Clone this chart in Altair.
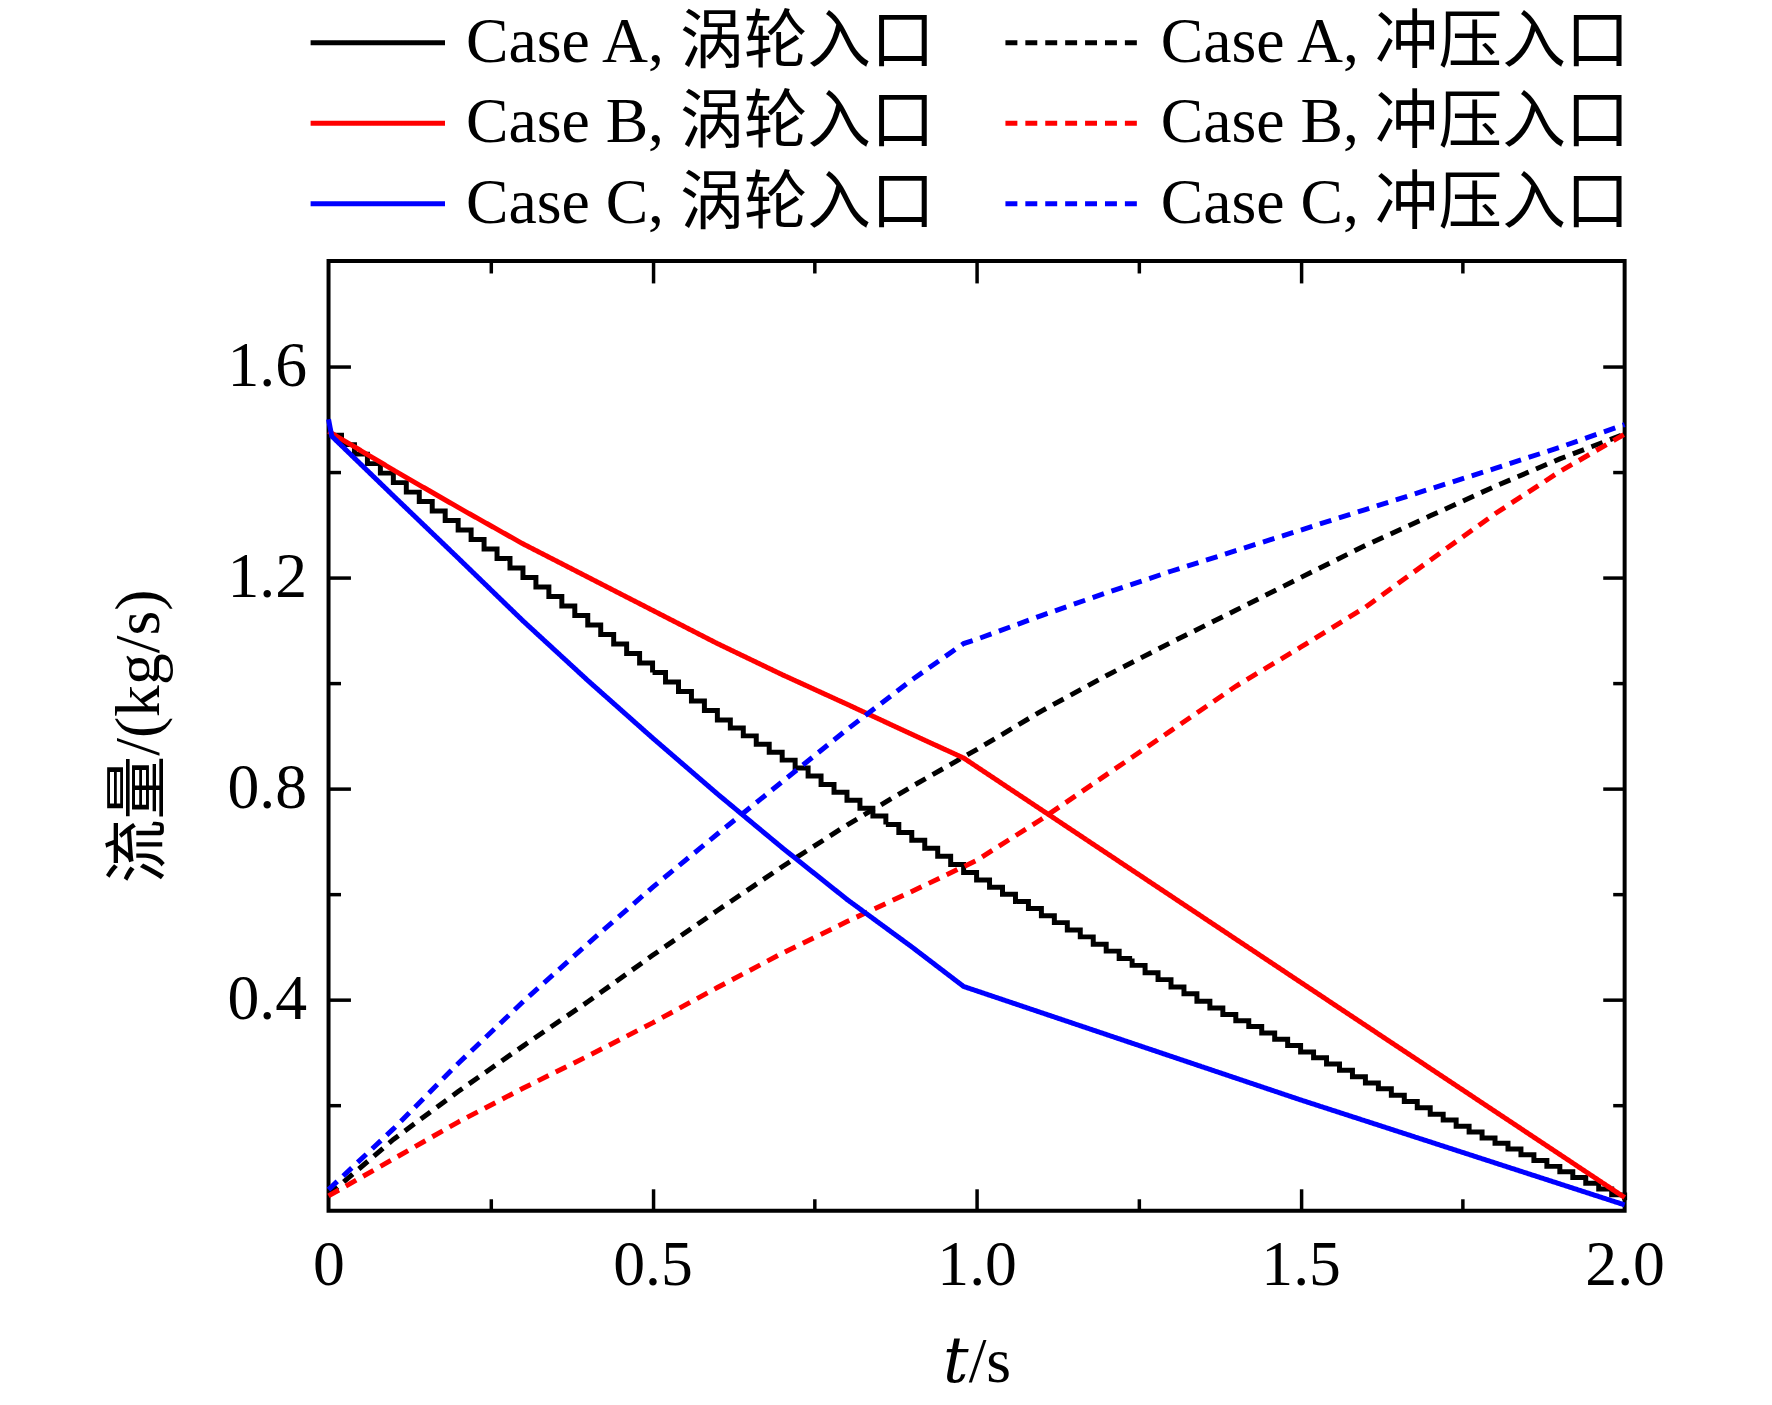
import altair as alt
import pandas as pd

# ---------------- data ----------------
NAMES = ["Case A, 涡轮入口", "Case B, 涡轮入口", "Case C, 涡轮入口",
         "Case A, 冲压入口", "Case B, 冲压入口", "Case C, 冲压入口"]
COLORS = ["#000000", "#ff0000", "#0000ff", "#000000", "#ff0000", "#0000ff"]
DASHES = [[1, 0], [1, 0], [1, 0], [12, 8], [12, 8], [12, 8]]

# Case A turbine inlet (stair-stepped, 0.02 s steps)
T_A_TURBO = [round(i * 0.02, 2) for i in range(101)]
V_A_TURBO = [
    1.470, 1.452, 1.434, 1.416, 1.398, 1.380, 1.362, 1.344, 1.326, 1.308,
    1.290, 1.272, 1.254, 1.236, 1.218, 1.200, 1.182, 1.164, 1.146, 1.128,
    1.110, 1.092, 1.074, 1.056, 1.038, 1.020, 1.002, 0.984, 0.966, 0.948,
    0.930, 0.915, 0.900, 0.884, 0.869, 0.854, 0.839, 0.824, 0.808, 0.793,
    0.778, 0.763, 0.748, 0.732, 0.717, 0.702, 0.687, 0.672, 0.656, 0.641,
    0.627, 0.613, 0.600, 0.586, 0.573, 0.559, 0.546, 0.532, 0.519, 0.505,
    0.492, 0.478, 0.465, 0.451, 0.438, 0.424, 0.411, 0.397, 0.384, 0.372,
    0.360, 0.349, 0.337, 0.325, 0.313, 0.301, 0.290, 0.278, 0.266, 0.254,
    0.242, 0.231, 0.219, 0.207, 0.195, 0.183, 0.172, 0.160, 0.149, 0.138,
    0.128, 0.117, 0.106, 0.095, 0.084, 0.074, 0.063, 0.052, 0.041, 0.030,
    0.020,
]

T_GRID = [0.0, 0.1, 0.2, 0.3, 0.4, 0.5, 0.6, 0.7, 0.8, 0.9, 1.0,
          1.1, 1.2, 1.3, 1.4, 1.5, 1.6, 1.7, 1.8, 1.9, 2.0]
V_A_RAM = [0.030, 0.135, 0.226, 0.312, 0.396, 0.484, 0.569, 0.652, 0.731, 0.804, 0.874,
           0.947, 1.014, 1.077, 1.138, 1.200, 1.261, 1.317, 1.373, 1.425, 1.472]
V_B_RAM = [0.028, 0.098, 0.168, 0.232, 0.293, 0.356, 0.423, 0.488, 0.548, 0.605, 0.664,
           0.742, 0.826, 0.910, 0.994, 1.068, 1.144, 1.233, 1.321, 1.401, 1.472]

T_C_RAM = [0.0, 0.1, 0.2, 0.3, 0.4, 0.5, 0.6, 0.7, 0.8, 0.9, 0.98, 1.0,
           1.1, 1.2, 1.3, 1.4, 1.5, 1.6, 1.7, 1.8, 1.9, 2.0]
V_C_RAM = [0.040, 0.155, 0.279, 0.396, 0.506, 0.613, 0.714, 0.813, 0.912, 1.006, 1.075, 1.083,
           1.128, 1.171, 1.212, 1.251, 1.290, 1.329, 1.368, 1.407, 1.447, 1.490]

T_B_TURBO = [0.0, 0.1, 0.2, 0.3, 0.4, 0.5, 0.6, 0.7, 0.8, 0.9, 0.98, 1.5, 2.0]
V_B_TURBO = [1.477, 1.404, 1.333, 1.264, 1.201, 1.138, 1.075, 1.016, 0.960, 0.903, 0.858, 0.433, 0.025]

T_C_TURBO = [0.0, 0.005, 0.1, 0.2, 0.3, 0.4, 0.5, 0.6, 0.7, 0.8, 0.9, 0.98, 1.5, 2.0]
V_C_TURBO = [1.500, 1.468, 1.355, 1.237, 1.118, 1.005, 0.896, 0.790, 0.688, 0.590, 0.500, 0.425, 0.210, 0.011]

X_MAJOR = [0.5, 1.0, 1.5]
X_MINOR = [0.25, 0.75, 1.25, 1.75]
X_LABELS = [0, 0.5, 1.0, 1.5, 2.0]
Y_MAJOR = [0.4, 0.8, 1.2, 1.6]
Y_MINOR = [0.2, 0.6, 1.0, 1.4]

# ---------------- build table ----------------
series = [
    (NAMES[0], T_A_TURBO, V_A_TURBO),
    (NAMES[3], T_GRID, V_A_RAM),
    (NAMES[1], T_B_TURBO, V_B_TURBO),
    (NAMES[4], T_GRID, V_B_RAM),
    (NAMES[2], T_C_TURBO, V_C_TURBO),
    (NAMES[5], T_C_RAM, V_C_RAM),
]
rows = []
for name, ts, vs in series:
    for t, v in zip(ts, vs):
        rows.append({"series": name, "t": t, "v": v})
df = pd.DataFrame(rows)

W, H = 1302, 954
FONT = "Liberation Serif, DejaVu Serif, Noto Sans CJK SC"
FS = 64
LW = 5

xscale = alt.Scale(domain=[0, 2], nice=False, zero=False)
yscale = alt.Scale(domain=[0, 1.8], nice=False, zero=False)

# long horizontal legend stroke drawn as a custom path (unit = sqrt(size)/2)
legend = alt.Legend(
    title=None, orient="none", legendX=15, legendY=-254, columns=2,
    symbolType="M-2.11,0H2.11", symbolSize=4096, symbolStrokeWidth=LW,
    labelFont=FONT, labelFontSize=FS, labelColor="black", labelLimit=1200,
    labelOffset=54, rowPadding=14, columnPadding=56, padding=0,
)
color = alt.Color("series:N", scale=alt.Scale(domain=NAMES, range=COLORS), legend=legend)
dash = alt.StrokeDash("series:N", scale=alt.Scale(domain=NAMES, range=DASHES), legend=legend)

label_x = alt.Axis(
    orient="bottom", values=X_LABELS,
    labelExpr="datum.value == 0 ? '0' : format(datum.value, '.1f')",
    ticks=False, tickSize=0, domain=False, grid=False, labelFlush=False,
    labelFont=FONT, labelFontSize=FS, labelColor="black",
    labelBaseline="alphabetic", labelPadding=74,
    title="𝑡/s", titleFont=FONT, titleFontSize=FS, titleFontWeight="normal",
    titleColor="black", titleBaseline="alphabetic", titleX=W / 2, titleY=172,
    titleAlign="center",
)
label_y = alt.Axis(
    orient="left", values=Y_MAJOR, format=".1f",
    ticks=False, tickSize=0, domain=False, grid=False, labelFlush=False,
    labelFont=FONT, labelFontSize=FS, labelColor="black", labelPadding=22,
    labelBaseline="middle",
    title="流量/(kg/s)", titleFont=FONT, titleFontSize=FS, titleFontWeight="normal",
    titleColor="black", titleAngle=-90, titleBaseline="middle", titleAlign="center",
    titleX=-190, titleY=H / 2,
)


def tick_axis(orient, offset, values, size):
    return alt.Axis(orient=orient, offset=offset, values=values, tickSize=size,
                    tickWidth=3.5, tickColor="black", labels=False, domain=False,
                    grid=False, title=None)


step_layer = alt.Chart(df).transform_filter(
    alt.datum.series == NAMES[0]
).mark_line(interpolate="step-after", strokeWidth=LW).encode(
    x=alt.X("t:Q", scale=xscale, axis=None),
    y=alt.Y("v:Q", scale=yscale, axis=None),
    color=color, strokeDash=dash, order="t:Q",
)

line_layer = alt.Chart(df).transform_filter(
    alt.datum.series != NAMES[0]
).mark_line(strokeWidth=LW).encode(
    x=alt.X("t:Q", scale=xscale, axis=label_x),
    y=alt.Y("v:Q", scale=yscale, axis=label_y),
    color=color, strokeDash=dash, order="t:Q",
)


def tick_layer(xo, yo, xv, yv, size):
    return alt.Chart(df).mark_point(opacity=0).encode(
        x=alt.X("t:Q", scale=xscale, axis=tick_axis(xo, -H, xv, size)),
        y=alt.Y("v:Q", scale=yscale, axis=tick_axis(yo, -W, yv, size)),
    )


chart = alt.layer(
    step_layer, line_layer,
    tick_layer("top", "right", X_MAJOR, Y_MAJOR, 22),
    tick_layer("top", "right", X_MINOR, Y_MINOR, 12),
    tick_layer("bottom", "left", X_MAJOR, Y_MAJOR, 22),
    tick_layer("bottom", "left", X_MINOR, Y_MINOR, 12),
).resolve_axis(x="independent", y="independent").properties(
    width=W, height=H,
    autosize=alt.AutoSizeParams(type="none"),
    padding={"left": 322, "top": 251, "right": 140, "bottom": 192},
).configure(background="white").configure_view(stroke="black", strokeWidth=4)

chart.save("out.html", embed_options={"renderer": "svg", "actions": False})
